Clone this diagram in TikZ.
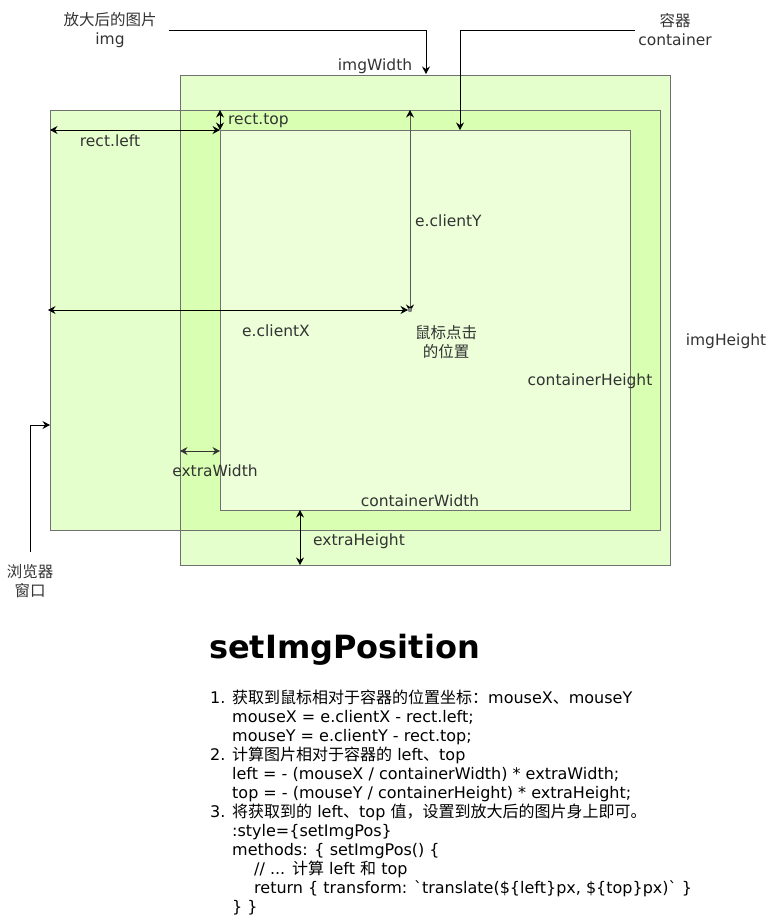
\documentclass[tikz,border=0pt]{standalone}
\usepackage{fontspec}
\setmainfont{DejaVu Sans}[Ligatures=TeXOff]
\newfontfamily\zhfont{Noto Sans CJK SC}
\newcommand\zh[1]{{\zhfont#1}}
\usetikzlibrary{arrows.meta}
\definecolor{leaf}{HTML}{CCFF99}
\definecolor{rim}{HTML}{707070}
\definecolor{ink}{HTML}{333333}
\tikzset{
lbl/.style={font=\fontsize{15.5}{19}\selectfont,text=ink,align=center,inner sep=0pt},
code/.style={font=\fontsize{16}{19}\selectfont,anchor=base west,inner sep=0pt},
conn/.style={-{Stealth[length=7.5pt,width=8pt,inset=2.5pt]},line width=.9pt},
dim/.style={{Stealth[length=7.5pt,width=8pt,inset=2.5pt]}-{Stealth[length=7.5pt,width=8pt,inset=2.5pt]},line width=.9pt}}
\begin{document}
\begin{tikzpicture}[x=1pt,y=-1pt]
\useasboundingbox(0,0)rectangle(772,921);
% frames
\coordinate(img nw)at(180,75);\coordinate(img se)at(670,565);
\coordinate(win nw)at(50,110);\coordinate(win se)at(660,530);
\coordinate(box nw)at(220,130);\coordinate(box se)at(630,510);
\coordinate(click)at(410,310);
\fill[leaf,fill opacity=.5](img nw)rectangle(img se);
\fill[leaf,fill opacity=.5](win nw)rectangle(win se);
\fill[white,fill opacity=.5](box nw)rectangle(box se);
\draw[rim](img nw)rectangle(img se);
\draw[rim](win nw)rectangle(win se);
\draw[rim](box nw)rectangle(box se);
% callouts
\node[lbl](imglbl)at(110,30){\zh{放大后的图片}\\img};
\node[lbl](boxlbl)at(675,30){\zh{容器}\\container};
\node[lbl](winlbl)at(30,581){\zh{浏览器}\\\zh{窗口}};
\coordinate(imgtip)at(426,74);\coordinate(boxtip)at(460,130);\coordinate(wintip)at(50,425);
\draw[conn,shorten <=12pt](imglbl.east)-|(imgtip);
\draw[conn,shorten <=3pt](boxlbl.west)-|(boxtip);
\draw[conn,shorten <=12pt](winlbl.north)|-(wintip);
% measures
\coordinate(ew)at(200,451);\coordinate(eh)at(300,530);
\draw[dim](win nw|-box nw)--(box nw);
\draw[dim](box nw|-win nw)--(box nw);
\draw[dim,draw=black!65,{Stealth[length=7.5pt,width=8pt,inset=2.5pt,black]}-{Stealth[length=7.5pt,width=8pt,inset=2.5pt,black]}](click|-win nw)--([yshift=-2pt]click);
\draw[dim]([xshift=-2pt]win nw|-click)--([xshift=-2pt]click);
\draw[dim,draw=black!80](img nw|-ew)--(box nw|-ew);
\draw[dim](eh|-box se)--(eh|-img se);
\fill[gray](click)circle(2.2);
\node[lbl](wlbl)at(375,66){imgWidth};
\node[lbl](hlbl)at(726,341){imgHeight};
\node[lbl](rllbl)at(110,141){rect.left};
\node[lbl,anchor=west](rtlbl)at(228,121){rect.top};
\node[lbl,anchor=west](cylbl)at(415,221){e.clientY};
\node[lbl](cxlbl)at(276,331){e.clientX};
\node[lbl](clicklbl)at(446,342){\zh{鼠标点击}\\\zh{的位置}};
\node[lbl](chlbl)at(590,381){containerHeight};
\node[lbl](ewlbl)at(215,471){extraWidth};
\node[lbl](cwlbl)at(420,501){containerWidth};
\node[lbl](ehlbl)at(359,541){extraHeight};
% steps
\node[code,font=\bfseries\fontsize{32}{38}\selectfont](title)at(209,658){setImgPosition};
\node[code](s1)at(210,703){\makebox[22pt][l]{1.}\zh{获取到鼠标相对于容器的位置坐标：}mouseX\zh{、}mouseY};
\node[code](s2)at(232,722){mouseX = e.clientX - rect.left;};
\node[code](s3)at(232,741){mouseY = e.clientY - rect.top;};
\node[code](s4)at(210,760){\makebox[22pt][l]{2.}\zh{计算图片相对于容器的} left\zh{、}top};
\node[code](s5)at(232,779){left = - (mouseX / containerWidth) * extraWidth;};
\node[code](s6)at(232,798){top = - (mouseY / containerHeight) * extraHeight;};
\node[code](s7)at(210,817){\makebox[22pt][l]{3.}\zh{将获取到的} left\zh{、}top \zh{值，设置到放大后的图片身上即可。}};
\node[code](s8)at(232,836){:style=\{setImgPos\}};
\node[code](s9)at(232,855){methods: \{ setImgPos() \{};
\node[code](s10)at(254,874){// ... \zh{计算} left \zh{和} top};
\node[code](s11)at(254,893){return \{ transform: \symbol{96}translate(\$\{left\}px, \$\{top\}px)\symbol{96} \}};
\node[code](s12)at(232,912){\} \}};
\end{tikzpicture}
\end{document}
